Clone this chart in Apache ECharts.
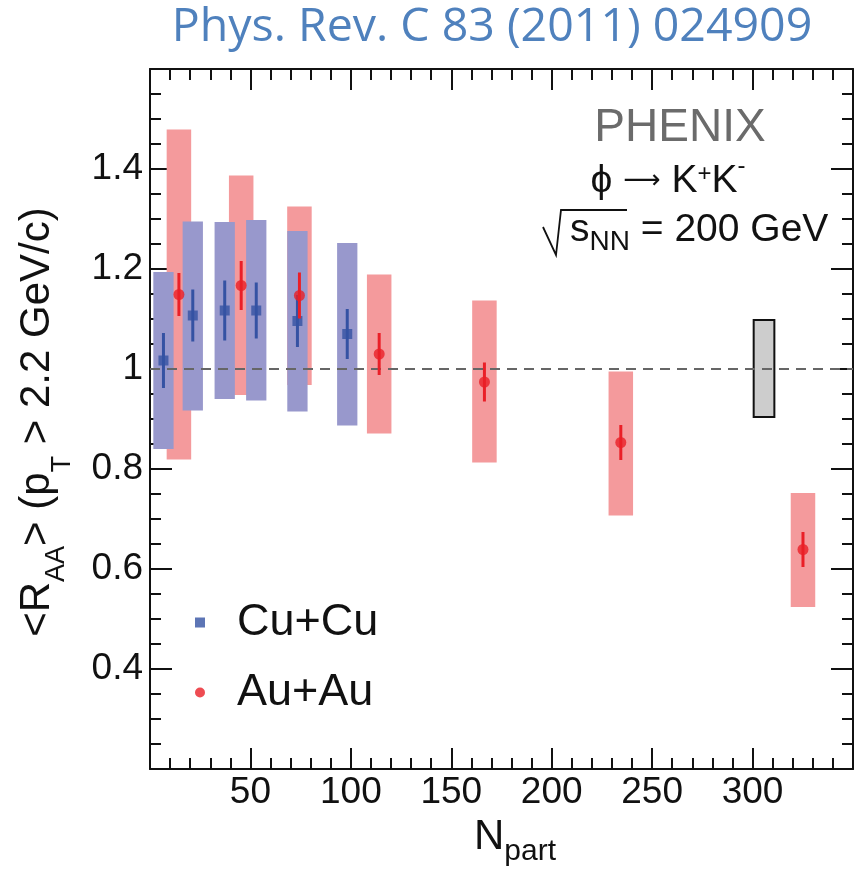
<!DOCTYPE html>
<html>
<head>
<meta charset="utf-8">
<script src="https://cdn.jsdelivr.net/npm/echarts@6/dist/echarts.min.js"></script>
<style>
html,body{margin:0;padding:0;background:#fff;}
#chart{width:861px;height:874px;}
</style>
</head>
<body>
<div id="chart"></div>
<script>
// ---------- data ----------
const cuNpart    = [6.7, 21.3, 37.2, 52.9, 73.4, 98.2];
const cuRaa      = [1.017, 1.107, 1.117, 1.117, 1.096, 1.070];
const cuStat     = [0.055, 0.052, 0.060, 0.056, 0.052, 0.050];
const cuSysLow   = [0.840, 0.917, 0.940, 0.937, 0.915, 0.887];
const cuSysHigh  = [1.194, 1.295, 1.294, 1.298, 1.276, 1.252];

const auNpart    = [14.4, 45.4, 74.4, 114.1, 166.5, 234.4, 325.1];
const auRaa      = [1.149, 1.167, 1.147, 1.030, 0.974, 0.853, 0.639];
const auStat     = [0.043, 0.049, 0.046, 0.042, 0.039, 0.035, 0.035];
const auSysLow   = [0.819, 0.948, 0.968, 0.871, 0.813, 0.707, 0.524];
const auSysHigh  = [1.479, 1.387, 1.325, 1.189, 1.137, 0.995, 0.752];

const globalNpart = [305.7];
const globalLow   = [0.904];
const globalHigh  = [1.098];

const xTickLabels = ['50', '100', '150', '200', '250', '300'];
const yTickLabels = ['0.4', '0.6', '0.8', '1', '1.2', '1.4'];

// ---------- styling constants ----------
const FONT = "'Liberation Sans', Arial, Helvetica, sans-serif";
const CU_BOX = '#9898cc', AU_BOX = '#f49a9c';
const CU_MK = '#3552a3', AU_MK = '#ea1f27';
const CU_HALF = 5.05, AU_HALF = 6.1, GL_HALF = 5.15;

const zip3 = (a, b, c) => a.map((v, i) => [v, b[i], c[i]]);

function boxRender(halfW, style) {
  return function (params, api) {
    const x = api.value(0), lo = api.value(1), hi = api.value(2);
    const p1 = api.coord([x - halfW, hi]);
    const p2 = api.coord([x + halfW, lo]);
    return { type: 'rect',
      shape: { x: p1[0], y: p1[1], width: p2[0] - p1[0], height: p2[1] - p1[1] },
      style: style };
  };
}
function barRender(color) {
  return function (params, api) {
    const x = api.value(0);
    const a = api.coord([x, api.value(1)]);
    const b = api.coord([x, api.value(2)]);
    return { type: 'line', shape: { x1: a[0], y1: a[1], x2: b[0], y2: b[1] },
      style: { stroke: color, lineWidth: 3 } };
  };
}

const axisLine = { show: true, onZero: false, lineStyle: { color: '#111', width: 2 } };
function xAx(pos, labels) {
  return {
    type: 'value', position: pos, min: 0, max: 350, interval: 50,
    axisLine: axisLine,
    axisTick: { show: true, inside: true, length: 21, lineStyle: { color: '#111', width: 2 } },
    minorTick: { show: true, splitNumber: 5, length: 11, lineStyle: { color: '#111', width: 2 } },
    splitLine: { show: false }, minorSplitLine: { show: false },
    axisLabel: labels ? {
      show: true, margin: 5, fontSize: 37, fontFamily: FONT, color: '#111',
      formatter: v => xTickLabels.includes(String(v)) ? String(v) : ''
    } : { show: false }
  };
}
function yAx(pos, labels) {
  return {
    type: 'value', position: pos, min: 0.2, max: 1.6, interval: 0.2,
    axisLine: axisLine,
    axisTick: { show: true, inside: true, length: 22, lineStyle: { color: '#111', width: 2 } },
    minorTick: { show: true, splitNumber: 4, length: 11, lineStyle: { color: '#111', width: 2 } },
    splitLine: { show: false }, minorSplitLine: { show: false },
    axisLabel: labels ? {
      show: true, margin: 7, fontSize: 37, fontFamily: FONT, color: '#111',
      padding: [4, 0, 0, 0],
      formatter: v => { const s = String(+(+v).toFixed(2)); return yTickLabels.includes(s) ? s : ''; }
    } : { show: false }
  };
}

const chart = echarts.init(document.getElementById('chart'), null, { renderer: 'canvas' });
chart.setOption({
  animation: false,
  backgroundColor: '#fff',
  grid: { left: 150, top: 69, width: 703, height: 700, containLabel: false },
  xAxis: [xAx('bottom', true), xAx('top', false)],
  yAxis: [yAx('left', true), yAx('right', false)],
  legend: {
    orient: 'vertical', left: 195, top: 600, padding: 0, itemGap: 25,
    itemWidth: 10, itemHeight: 10,
    data: [{ name: 'Cu+Cu', icon: 'rect' }, { name: 'Au+Au', icon: 'circle' }],
    formatter: name => '{g|}{t|' + name + '}',
    textStyle: { color: '#111', fontFamily: FONT,
      rich: { g: { width: 27 }, t: { fontSize: 45, lineHeight: 45, fontFamily: FONT, color: '#111' } } }
  },
  series: [
    { type: 'custom', name: 'Au+Au sys', z: 2, silent: true,
      renderItem: boxRender(AU_HALF, { fill: AU_BOX }),
      encode: { x: 0, y: [1, 2] }, data: zip3(auNpart, auSysLow, auSysHigh) },
    { type: 'custom', name: 'Cu+Cu sys', z: 2, silent: true,
      renderItem: boxRender(CU_HALF, { fill: CU_BOX }),
      encode: { x: 0, y: [1, 2] }, data: zip3(cuNpart, cuSysLow, cuSysHigh) },
    { type: 'custom', name: 'global', z: 3, silent: true,
      renderItem: boxRender(GL_HALF, { fill: '#cdcdcd', stroke: '#111', lineWidth: 2 }),
      encode: { x: 0, y: [1, 2] }, data: zip3(globalNpart, globalLow, globalHigh) },
    { type: 'line', name: 'unity', z: 4, data: [], silent: true,
      markLine: { silent: true, symbol: ['none', 'none'], label: { show: false },
        lineStyle: { color: '#666', width: 2, type: [10, 7] },
        data: [{ yAxis: 1 }] } },
    { type: 'custom', name: 'Cu+Cu stat', z: 5, silent: true,
      renderItem: barRender(CU_MK), encode: { x: 0, y: [1, 2] },
      data: cuNpart.map((x, i) => [x, cuRaa[i] - cuStat[i], cuRaa[i] + cuStat[i]]) },
    { type: 'scatter', name: 'Cu+Cu', z: 6, symbol: 'rect', symbolSize: 10,
      itemStyle: { color: CU_MK },
      data: cuNpart.map((x, i) => [x, cuRaa[i]]) },
    { type: 'custom', name: 'Au+Au stat', z: 7, silent: true,
      renderItem: barRender(AU_MK), encode: { x: 0, y: [1, 2] },
      data: auNpart.map((x, i) => [x, auRaa[i] - auStat[i], auRaa[i] + auStat[i]]) },
    { type: 'scatter', name: 'Au+Au', z: 8, symbol: 'circle', symbolSize: 11,
      itemStyle: { color: AU_MK },
      data: auNpart.map((x, i) => [x, auRaa[i]]) }
  ],
  graphic: [
    { type: 'text', x: 492, y: 28, z: 10, style: {
        text: 'Phys. Rev. C 83 (2011) 024909', fill: '#4F81BD',
        font: "46.5px 'Open Sans', Lato, sans-serif", align: 'center', verticalAlign: 'middle' } },
    { type: 'text', x: 680, y: 128, z: 10, style: {
        text: 'PHENIX', fill: '#6b6b6b', fontSize: 46, fontFamily: FONT,
        align: 'center', verticalAlign: 'middle' } },
    { type: 'text', x: 668, y: 181, z: 10, style: {
        text: '{ph|\u03D5} {ar|\u27F6} K{sp|+}K{sm|-}', fill: '#111', fontSize: 39, fontFamily: FONT,
        align: 'center', verticalAlign: 'middle',
        rich: { ph: { fontSize: 39, fontFamily: "'Liberation Sans', 'DejaVu Sans', sans-serif", fill: '#111' },
                ar: { fontSize: 26, fontFamily: "'DejaVu Sans', sans-serif", fill: '#111' },
                sp: { fontSize: 24, fontFamily: FONT, fill: '#111', padding: [0, 0, 14, 0] },
                sm: { fontSize: 24, fontFamily: FONT, fill: '#111', padding: [0, 0, 30, 0] } } } },
    { type: 'text', x: 570, y: 230, z: 10, style: {
        text: 's{n|NN} = 200 GeV', fill: '#111', fontSize: 39, fontFamily: FONT,
        align: 'left', verticalAlign: 'middle',
        rich: { n: { fontSize: 28, fontFamily: FONT, fill: '#111', padding: [25, 0, 0, 0] } } } },
    { type: 'polyline', z: 10, shape: { points: [[543, 227], [556, 255], [561, 210], [627, 210]] },
      style: { stroke: '#111', lineWidth: 1.8, fill: null } },
    { type: 'text', x: 515, y: 837, z: 10, style: {
        text: 'N{s|part}', fill: '#111', fontSize: 42, fontFamily: FONT,
        align: 'center', verticalAlign: 'middle',
        rich: { s: { fontSize: 30, fontFamily: FONT, fill: '#111', padding: [29, 0, 0, 0] } } } },
    { type: 'text', x: 37, y: 422, rotation: Math.PI / 2, z: 10, style: {
        text: '<R{aa|AA}> (p{t|T} > 2.2 GeV/c)', fill: '#111', fontSize: 42, fontFamily: FONT,
        align: 'center', verticalAlign: 'middle',
        rich: { aa: { fontSize: 27, fontFamily: FONT, fill: '#111', padding: [40, 0, 0, 0] },
                t: { fontSize: 27, fontFamily: FONT, fill: '#111', padding: [52, 0, 0, 0] } } } }
  ]
});
</script>
</body>
</html>
